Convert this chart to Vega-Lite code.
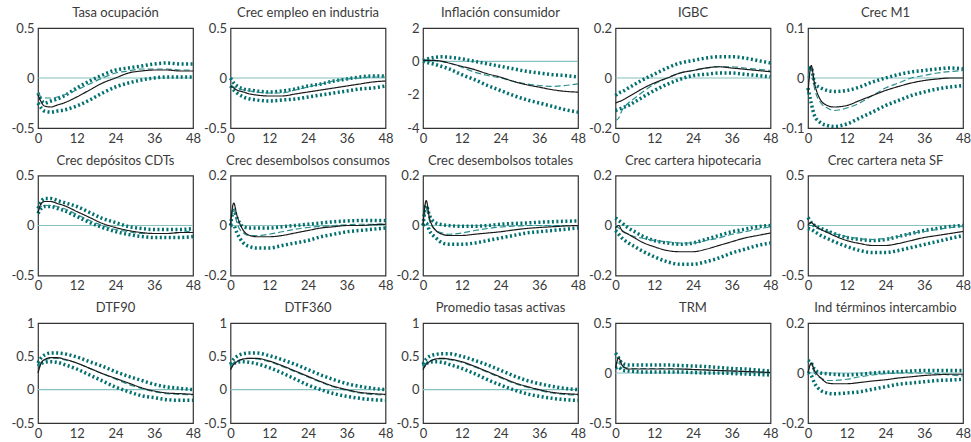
{
"$schema":"https://vega.github.io/schema/vega-lite/v6.json",
"padding":{"left":10,"top":6,"right":0,"bottom":0},
"background":"white",
"data":{"values":[
{"p":1,"h":0,"m":-0.17,"d":-0.15,"u":-0.15,"l":-0.25},
{"p":1,"h":1,"m":-0.24,"d":-0.19,"u":-0.22,"l":-0.3},
{"p":1,"h":2,"m":-0.28,"d":-0.2,"u":-0.25,"l":-0.33},
{"p":1,"h":4,"m":-0.29,"d":-0.2,"u":-0.23,"l":-0.34},
{"p":1,"h":6,"m":-0.27,"d":-0.19,"u":-0.21,"l":-0.33},
{"p":1,"h":8,"m":-0.25,"d":-0.17,"u":-0.18,"l":-0.32},
{"p":1,"h":12,"m":-0.19,"d":-0.12,"u":-0.1,"l":-0.28},
{"p":1,"h":16,"m":-0.12,"d":-0.06,"u":-0.03,"l":-0.22},
{"p":1,"h":20,"m":-0.05,"d":0.0,"u":0.03,"l":-0.15},
{"p":1,"h":24,"m":0.0,"d":0.05,"u":0.08,"l":-0.09},
{"p":1,"h":28,"m":0.05,"d":0.07,"u":0.1,"l":-0.05},
{"p":1,"h":32,"m":0.07,"d":0.09,"u":0.12,"l":-0.02},
{"p":1,"h":36,"m":0.08,"d":0.09,"u":0.14,"l":0.0},
{"p":1,"h":40,"m":0.08,"d":0.09,"u":0.15,"l":0.01},
{"p":1,"h":44,"m":0.07,"d":0.08,"u":0.14,"l":0.01},
{"p":1,"h":48,"m":0.07,"d":0.08,"u":0.14,"l":0.01},
{"p":2,"h":0,"m":-0.08,"d":-0.07,"u":0.0,"l":-0.08},
{"p":2,"h":1,"m":-0.1,"d":-0.09,"u":-0.05,"l":-0.12},
{"p":2,"h":2,"m":-0.12,"d":-0.1,"u":-0.08,"l":-0.15},
{"p":2,"h":4,"m":-0.14,"d":-0.12,"u":-0.11,"l":-0.19},
{"p":2,"h":6,"m":-0.16,"d":-0.13,"u":-0.12,"l":-0.21},
{"p":2,"h":8,"m":-0.17,"d":-0.14,"u":-0.13,"l":-0.22},
{"p":2,"h":12,"m":-0.18,"d":-0.15,"u":-0.14,"l":-0.23},
{"p":2,"h":16,"m":-0.18,"d":-0.15,"u":-0.13,"l":-0.22},
{"p":2,"h":20,"m":-0.16,"d":-0.12,"u":-0.11,"l":-0.21},
{"p":2,"h":24,"m":-0.14,"d":-0.09,"u":-0.08,"l":-0.19},
{"p":2,"h":28,"m":-0.12,"d":-0.06,"u":-0.06,"l":-0.17},
{"p":2,"h":32,"m":-0.1,"d":-0.03,"u":-0.03,"l":-0.15},
{"p":2,"h":36,"m":-0.08,"d":-0.01,"u":-0.01,"l":-0.13},
{"p":2,"h":40,"m":-0.06,"d":0.0,"u":0.01,"l":-0.11},
{"p":2,"h":44,"m":-0.04,"d":0.01,"u":0.02,"l":-0.1},
{"p":2,"h":48,"m":-0.03,"d":0.01,"u":0.02,"l":-0.08},
{"p":3,"h":0,"m":0.05,"d":0.1,"u":0.05,"l":0.0},
{"p":3,"h":1,"m":0.06,"d":0.09,"u":0.12,"l":-0.05},
{"p":3,"h":2,"m":0.06,"d":0.08,"u":0.18,"l":-0.1},
{"p":3,"h":4,"m":0.05,"d":0.05,"u":0.25,"l":-0.2},
{"p":3,"h":6,"m":0.0,"d":-0.02,"u":0.27,"l":-0.32},
{"p":3,"h":8,"m":-0.1,"d":-0.1,"u":0.25,"l":-0.45},
{"p":3,"h":12,"m":-0.3,"d":-0.35,"u":0.15,"l":-0.8},
{"p":3,"h":16,"m":-0.5,"d":-0.65,"u":0.0,"l":-1.1},
{"p":3,"h":20,"m":-0.75,"d":-0.85,"u":-0.15,"l":-1.45},
{"p":3,"h":24,"m":-0.95,"d":-1.0,"u":-0.3,"l":-1.75},
{"p":3,"h":28,"m":-1.2,"d":-1.2,"u":-0.45,"l":-2.05},
{"p":3,"h":32,"m":-1.4,"d":-1.35,"u":-0.6,"l":-2.3},
{"p":3,"h":36,"m":-1.55,"d":-1.45,"u":-0.7,"l":-2.5},
{"p":3,"h":40,"m":-1.7,"d":-1.5,"u":-0.8,"l":-2.7},
{"p":3,"h":44,"m":-1.8,"d":-1.45,"u":-0.85,"l":-2.9},
{"p":3,"h":48,"m":-1.85,"d":-1.35,"u":-0.95,"l":-3.05},
{"p":4,"h":0,"m":-0.1,"d":-0.17,"u":-0.07,"l":-0.13},
{"p":4,"h":1,"m":-0.095,"d":-0.16,"u":-0.06,"l":-0.125},
{"p":4,"h":2,"m":-0.09,"d":-0.13,"u":-0.055,"l":-0.12},
{"p":4,"h":4,"m":-0.075,"d":-0.1,"u":-0.04,"l":-0.11},
{"p":4,"h":6,"m":-0.06,"d":-0.08,"u":-0.025,"l":-0.095},
{"p":4,"h":8,"m":-0.045,"d":-0.06,"u":-0.01,"l":-0.08},
{"p":4,"h":12,"m":-0.02,"d":-0.025,"u":0.015,"l":-0.05},
{"p":4,"h":16,"m":0.0,"d":0.0,"u":0.04,"l":-0.025},
{"p":4,"h":20,"m":0.02,"d":0.02,"u":0.06,"l":-0.005},
{"p":4,"h":24,"m":0.03,"d":0.03,"u":0.07,"l":0.01},
{"p":4,"h":28,"m":0.04,"d":0.04,"u":0.08,"l":0.015},
{"p":4,"h":32,"m":0.045,"d":0.045,"u":0.085,"l":0.02},
{"p":4,"h":36,"m":0.04,"d":0.045,"u":0.085,"l":0.02},
{"p":4,"h":40,"m":0.035,"d":0.04,"u":0.08,"l":0.015},
{"p":4,"h":44,"m":0.03,"d":0.035,"u":0.07,"l":0.01},
{"p":4,"h":48,"m":0.025,"d":0.03,"u":0.06,"l":0.005},
{"p":5,"h":0,"m":-0.03,"d":0.0,"u":0.02,"l":-0.02},
{"p":5,"h":1,"m":0.025,"d":0.02,"u":0.02,"l":-0.05},
{"p":5,"h":2,"m":-0.01,"d":-0.02,"u":-0.01,"l":-0.075},
{"p":5,"h":4,"m":-0.045,"d":-0.05,"u":-0.02,"l":-0.09},
{"p":5,"h":6,"m":-0.055,"d":-0.06,"u":-0.025,"l":-0.095},
{"p":5,"h":8,"m":-0.058,"d":-0.065,"u":-0.027,"l":-0.097},
{"p":5,"h":12,"m":-0.055,"d":-0.06,"u":-0.025,"l":-0.092},
{"p":5,"h":16,"m":-0.045,"d":-0.05,"u":-0.018,"l":-0.08},
{"p":5,"h":20,"m":-0.035,"d":-0.035,"u":-0.008,"l":-0.068},
{"p":5,"h":24,"m":-0.025,"d":-0.02,"u":0.0,"l":-0.055},
{"p":5,"h":28,"m":-0.017,"d":-0.01,"u":0.007,"l":-0.045},
{"p":5,"h":32,"m":-0.01,"d":0.0,"u":0.012,"l":-0.035},
{"p":5,"h":36,"m":-0.005,"d":0.005,"u":0.015,"l":-0.028},
{"p":5,"h":40,"m":-0.002,"d":0.01,"u":0.018,"l":-0.022},
{"p":5,"h":44,"m":0.0,"d":0.013,"u":0.02,"l":-0.018},
{"p":5,"h":48,"m":0.0,"d":0.015,"u":0.018,"l":-0.015},
{"p":6,"h":0,"m":0.13,"d":0.15,"u":0.17,"l":0.12},
{"p":6,"h":1,"m":0.22,"d":0.19,"u":0.24,"l":0.17},
{"p":6,"h":2,"m":0.24,"d":0.2,"u":0.27,"l":0.19},
{"p":6,"h":4,"m":0.24,"d":0.2,"u":0.27,"l":0.19},
{"p":6,"h":6,"m":0.22,"d":0.19,"u":0.25,"l":0.17},
{"p":6,"h":8,"m":0.2,"d":0.17,"u":0.23,"l":0.15},
{"p":6,"h":12,"m":0.14,"d":0.11,"u":0.19,"l":0.09},
{"p":6,"h":16,"m":0.08,"d":0.05,"u":0.13,"l":0.03},
{"p":6,"h":20,"m":0.02,"d":0.0,"u":0.07,"l":-0.02},
{"p":6,"h":24,"m":-0.02,"d":-0.04,"u":0.03,"l":-0.06},
{"p":6,"h":28,"m":-0.05,"d":-0.06,"u":-0.01,"l":-0.09},
{"p":6,"h":32,"m":-0.07,"d":-0.08,"u":-0.03,"l":-0.11},
{"p":6,"h":36,"m":-0.08,"d":-0.08,"u":-0.04,"l":-0.12},
{"p":6,"h":40,"m":-0.08,"d":-0.08,"u":-0.04,"l":-0.12},
{"p":6,"h":44,"m":-0.07,"d":-0.07,"u":-0.04,"l":-0.12},
{"p":6,"h":48,"m":-0.07,"d":-0.05,"u":-0.03,"l":-0.11},
{"p":7,"h":0,"m":0.0,"d":0.0,"u":0.0,"l":0.0},
{"p":7,"h":1,"m":0.09,"d":0.07,"u":0.06,"l":0.0},
{"p":7,"h":2,"m":0.04,"d":0.01,"u":0.03,"l":-0.03},
{"p":7,"h":4,"m":-0.02,"d":-0.03,"u":-0.005,"l":-0.07},
{"p":7,"h":6,"m":-0.04,"d":-0.04,"u":-0.01,"l":-0.085},
{"p":7,"h":8,"m":-0.045,"d":-0.04,"u":-0.01,"l":-0.09},
{"p":7,"h":12,"m":-0.045,"d":-0.035,"u":-0.01,"l":-0.09},
{"p":7,"h":16,"m":-0.04,"d":-0.025,"u":-0.005,"l":-0.08},
{"p":7,"h":20,"m":-0.03,"d":-0.015,"u":0.0,"l":-0.07},
{"p":7,"h":24,"m":-0.02,"d":-0.008,"u":0.005,"l":-0.06},
{"p":7,"h":28,"m":-0.01,"d":-0.003,"u":0.01,"l":-0.045},
{"p":7,"h":32,"m":-0.005,"d":0.0,"u":0.015,"l":-0.035},
{"p":7,"h":36,"m":0.0,"d":0.003,"u":0.018,"l":-0.025},
{"p":7,"h":40,"m":0.0,"d":0.005,"u":0.02,"l":-0.02},
{"p":7,"h":44,"m":0.003,"d":0.005,"u":0.02,"l":-0.015},
{"p":7,"h":48,"m":0.005,"d":0.006,"u":0.02,"l":-0.01},
{"p":8,"h":0,"m":0.0,"d":0.0,"u":0.0,"l":0.0},
{"p":8,"h":1,"m":0.1,"d":0.07,"u":0.08,"l":0.01},
{"p":8,"h":2,"m":0.03,"d":0.02,"u":0.04,"l":-0.02},
{"p":8,"h":4,"m":-0.02,"d":-0.02,"u":0.01,"l":-0.05},
{"p":8,"h":6,"m":-0.035,"d":-0.03,"u":0.003,"l":-0.07},
{"p":8,"h":8,"m":-0.04,"d":-0.035,"u":0.0,"l":-0.075},
{"p":8,"h":12,"m":-0.04,"d":-0.03,"u":-0.003,"l":-0.075},
{"p":8,"h":16,"m":-0.035,"d":-0.02,"u":-0.003,"l":-0.07},
{"p":8,"h":20,"m":-0.03,"d":-0.012,"u":0.0,"l":-0.06},
{"p":8,"h":24,"m":-0.025,"d":-0.006,"u":0.005,"l":-0.05},
{"p":8,"h":28,"m":-0.018,"d":-0.003,"u":0.008,"l":-0.04},
{"p":8,"h":32,"m":-0.012,"d":0.0,"u":0.01,"l":-0.03},
{"p":8,"h":36,"m":-0.008,"d":0.0,"u":0.013,"l":-0.025},
{"p":8,"h":40,"m":-0.005,"d":0.0,"u":0.015,"l":-0.02},
{"p":8,"h":44,"m":-0.002,"d":0.0,"u":0.017,"l":-0.015},
{"p":8,"h":48,"m":0.0,"d":0.0,"u":0.018,"l":-0.01},
{"p":9,"h":0,"m":-0.01,"d":0.0,"u":0.03,"l":-0.02},
{"p":9,"h":1,"m":0.0,"d":-0.01,"u":0.02,"l":-0.035},
{"p":9,"h":2,"m":-0.02,"d":-0.02,"u":0.01,"l":-0.05},
{"p":9,"h":4,"m":-0.035,"d":-0.035,"u":-0.01,"l":-0.07},
{"p":9,"h":6,"m":-0.05,"d":-0.045,"u":-0.025,"l":-0.085},
{"p":9,"h":8,"m":-0.065,"d":-0.05,"u":-0.04,"l":-0.1},
{"p":9,"h":12,"m":-0.085,"d":-0.06,"u":-0.06,"l":-0.125},
{"p":9,"h":16,"m":-0.1,"d":-0.065,"u":-0.07,"l":-0.145},
{"p":9,"h":20,"m":-0.105,"d":-0.07,"u":-0.075,"l":-0.155},
{"p":9,"h":24,"m":-0.105,"d":-0.07,"u":-0.07,"l":-0.155},
{"p":9,"h":28,"m":-0.095,"d":-0.06,"u":-0.055,"l":-0.145},
{"p":9,"h":32,"m":-0.08,"d":-0.05,"u":-0.04,"l":-0.13},
{"p":9,"h":36,"m":-0.065,"d":-0.035,"u":-0.025,"l":-0.11},
{"p":9,"h":40,"m":-0.05,"d":-0.025,"u":-0.015,"l":-0.095},
{"p":9,"h":44,"m":-0.04,"d":-0.015,"u":-0.005,"l":-0.08},
{"p":9,"h":48,"m":-0.03,"d":-0.005,"u":0.0,"l":-0.07},
{"p":10,"h":0,"m":0.0,"d":0.0,"u":0.08,"l":-0.03},
{"p":10,"h":1,"m":0.03,"d":0.0,"u":0.03,"l":-0.04},
{"p":10,"h":2,"m":0.0,"d":-0.02,"u":0.0,"l":-0.06},
{"p":10,"h":4,"m":-0.04,"d":-0.04,"u":-0.03,"l":-0.1},
{"p":10,"h":6,"m":-0.07,"d":-0.06,"u":-0.055,"l":-0.13},
{"p":10,"h":8,"m":-0.1,"d":-0.08,"u":-0.08,"l":-0.16},
{"p":10,"h":12,"m":-0.15,"d":-0.11,"u":-0.12,"l":-0.21},
{"p":10,"h":16,"m":-0.18,"d":-0.13,"u":-0.14,"l":-0.25},
{"p":10,"h":20,"m":-0.2,"d":-0.14,"u":-0.15,"l":-0.27},
{"p":10,"h":24,"m":-0.2,"d":-0.13,"u":-0.14,"l":-0.27},
{"p":10,"h":28,"m":-0.18,"d":-0.11,"u":-0.11,"l":-0.25},
{"p":10,"h":32,"m":-0.15,"d":-0.08,"u":-0.08,"l":-0.22},
{"p":10,"h":36,"m":-0.12,"d":-0.06,"u":-0.05,"l":-0.19},
{"p":10,"h":40,"m":-0.1,"d":-0.04,"u":-0.03,"l":-0.16},
{"p":10,"h":44,"m":-0.08,"d":-0.02,"u":-0.01,"l":-0.13},
{"p":10,"h":48,"m":-0.06,"d":-0.01,"u":0.0,"l":-0.1},
{"p":11,"h":0,"m":0.25,"d":0.35,"u":0.4,"l":0.35},
{"p":11,"h":1,"m":0.4,"d":0.41,"u":0.48,"l":0.39},
{"p":11,"h":2,"m":0.45,"d":0.44,"u":0.52,"l":0.41},
{"p":11,"h":4,"m":0.48,"d":0.47,"u":0.55,"l":0.42},
{"p":11,"h":6,"m":0.48,"d":0.47,"u":0.55,"l":0.41},
{"p":11,"h":8,"m":0.46,"d":0.45,"u":0.54,"l":0.38},
{"p":11,"h":12,"m":0.4,"d":0.4,"u":0.49,"l":0.31},
{"p":11,"h":16,"m":0.32,"d":0.32,"u":0.42,"l":0.22},
{"p":11,"h":20,"m":0.24,"d":0.24,"u":0.35,"l":0.13},
{"p":11,"h":24,"m":0.17,"d":0.16,"u":0.27,"l":0.04},
{"p":11,"h":28,"m":0.1,"d":0.08,"u":0.2,"l":-0.03},
{"p":11,"h":32,"m":0.03,"d":0.02,"u":0.14,"l":-0.09},
{"p":11,"h":36,"m":-0.02,"d":-0.03,"u":0.08,"l":-0.12},
{"p":11,"h":40,"m":-0.05,"d":-0.06,"u":0.04,"l":-0.15},
{"p":11,"h":44,"m":-0.06,"d":-0.07,"u":0.02,"l":-0.16},
{"p":11,"h":48,"m":-0.07,"d":-0.08,"u":0.0,"l":-0.16},
{"p":12,"h":0,"m":0.3,"d":0.35,"u":0.38,"l":0.35},
{"p":12,"h":1,"m":0.38,"d":0.4,"u":0.46,"l":0.39},
{"p":12,"h":2,"m":0.42,"d":0.43,"u":0.5,"l":0.41},
{"p":12,"h":4,"m":0.46,"d":0.46,"u":0.54,"l":0.42},
{"p":12,"h":6,"m":0.47,"d":0.47,"u":0.55,"l":0.41},
{"p":12,"h":8,"m":0.47,"d":0.46,"u":0.55,"l":0.39},
{"p":12,"h":12,"m":0.43,"d":0.42,"u":0.51,"l":0.33},
{"p":12,"h":16,"m":0.36,"d":0.35,"u":0.45,"l":0.25},
{"p":12,"h":20,"m":0.28,"d":0.27,"u":0.38,"l":0.16},
{"p":12,"h":24,"m":0.2,"d":0.19,"u":0.3,"l":0.07},
{"p":12,"h":28,"m":0.12,"d":0.11,"u":0.22,"l":0.0},
{"p":12,"h":32,"m":0.05,"d":0.04,"u":0.15,"l":-0.06},
{"p":12,"h":36,"m":0.0,"d":-0.01,"u":0.09,"l":-0.1},
{"p":12,"h":40,"m":-0.04,"d":-0.05,"u":0.05,"l":-0.13},
{"p":12,"h":44,"m":-0.06,"d":-0.07,"u":0.02,"l":-0.15},
{"p":12,"h":48,"m":-0.07,"d":-0.08,"u":0.0,"l":-0.16},
{"p":13,"h":0,"m":0.3,"d":0.35,"u":0.38,"l":0.35},
{"p":13,"h":1,"m":0.38,"d":0.4,"u":0.46,"l":0.39},
{"p":13,"h":2,"m":0.42,"d":0.43,"u":0.5,"l":0.41},
{"p":13,"h":4,"m":0.46,"d":0.46,"u":0.53,"l":0.42},
{"p":13,"h":6,"m":0.47,"d":0.46,"u":0.54,"l":0.41},
{"p":13,"h":8,"m":0.46,"d":0.45,"u":0.54,"l":0.38},
{"p":13,"h":12,"m":0.42,"d":0.41,"u":0.5,"l":0.32},
{"p":13,"h":16,"m":0.35,"d":0.34,"u":0.44,"l":0.24},
{"p":13,"h":20,"m":0.27,"d":0.26,"u":0.37,"l":0.15},
{"p":13,"h":24,"m":0.19,"d":0.18,"u":0.29,"l":0.07},
{"p":13,"h":28,"m":0.11,"d":0.1,"u":0.21,"l":0.0},
{"p":13,"h":32,"m":0.05,"d":0.04,"u":0.14,"l":-0.06},
{"p":13,"h":36,"m":0.0,"d":-0.01,"u":0.09,"l":-0.1},
{"p":13,"h":40,"m":-0.04,"d":-0.05,"u":0.05,"l":-0.13},
{"p":13,"h":44,"m":-0.06,"d":-0.07,"u":0.02,"l":-0.15},
{"p":13,"h":48,"m":-0.07,"d":-0.08,"u":0.0,"l":-0.16},
{"p":14,"h":0,"m":0.05,"d":0.1,"u":0.2,"l":0.05},
{"p":14,"h":1,"m":0.15,"d":0.1,"u":0.15,"l":0.06},
{"p":14,"h":2,"m":0.08,"d":0.06,"u":0.1,"l":0.03},
{"p":14,"h":4,"m":0.04,"d":0.05,"u":0.08,"l":0.02},
{"p":14,"h":6,"m":0.04,"d":0.045,"u":0.08,"l":0.015},
{"p":14,"h":8,"m":0.04,"d":0.045,"u":0.08,"l":0.01},
{"p":14,"h":12,"m":0.04,"d":0.045,"u":0.08,"l":0.01},
{"p":14,"h":16,"m":0.04,"d":0.045,"u":0.08,"l":0.01},
{"p":14,"h":20,"m":0.04,"d":0.04,"u":0.075,"l":0.01},
{"p":14,"h":24,"m":0.035,"d":0.035,"u":0.07,"l":0.005},
{"p":14,"h":28,"m":0.03,"d":0.03,"u":0.065,"l":0.0},
{"p":14,"h":32,"m":0.025,"d":0.025,"u":0.055,"l":0.0},
{"p":14,"h":36,"m":0.02,"d":0.02,"u":0.045,"l":-0.005},
{"p":14,"h":40,"m":0.015,"d":0.015,"u":0.04,"l":-0.01},
{"p":14,"h":44,"m":0.01,"d":0.01,"u":0.03,"l":-0.015},
{"p":14,"h":48,"m":0.005,"d":0.0,"u":0.02,"l":-0.02},
{"p":15,"h":0,"m":0.0,"d":0.0,"u":0.05,"l":0.0},
{"p":15,"h":1,"m":0.04,"d":0.04,"u":0.04,"l":-0.01},
{"p":15,"h":2,"m":0.01,"d":0.0,"u":0.015,"l":-0.04},
{"p":15,"h":4,"m":-0.02,"d":-0.02,"u":0.0,"l":-0.07},
{"p":15,"h":6,"m":-0.04,"d":-0.03,"u":-0.003,"l":-0.08},
{"p":15,"h":8,"m":-0.043,"d":-0.03,"u":-0.005,"l":-0.083},
{"p":15,"h":12,"m":-0.043,"d":-0.025,"u":-0.008,"l":-0.08},
{"p":15,"h":16,"m":-0.038,"d":-0.015,"u":-0.005,"l":-0.075},
{"p":15,"h":20,"m":-0.032,"d":-0.008,"u":0.0,"l":-0.065},
{"p":15,"h":24,"m":-0.027,"d":-0.003,"u":0.003,"l":-0.055},
{"p":15,"h":28,"m":-0.02,"d":0.0,"u":0.005,"l":-0.045},
{"p":15,"h":32,"m":-0.015,"d":0.0,"u":0.008,"l":-0.04},
{"p":15,"h":36,"m":-0.01,"d":0.0,"u":0.01,"l":-0.035},
{"p":15,"h":40,"m":-0.007,"d":-0.003,"u":0.01,"l":-0.03},
{"p":15,"h":44,"m":-0.005,"d":-0.008,"u":0.01,"l":-0.028},
{"p":15,"h":48,"m":-0.005,"d":-0.012,"u":0.01,"l":-0.025}
]},
"columns":5,
"bounds":"flush",
"spacing":{"column":37.5,"row":47.5},
"concat":[
{"title":"Tasa ocupación","layer":[
{"data":{"values":[{}]},"mark":{"type":"rule","color":"#86c0c0","strokeWidth":1.2},"encoding":{"y":{"datum":0,"type":"quantitative","scale":{"domain":[-0.5,0.5]},"axis":{"values":[-0.5,0,0.5]},"title":null}}},
{"transform":[{"filter":"datum.p==1"},{"fold":["u","l","d","m"],"as":["k","v"]}],"mark":{"type":"line","interpolate":"monotone"},
"encoding":{"x":{"field":"h","type":"quantitative","scale":{"domain":[0,48]},"axis":{"values":[0,12,24,36,48]},"title":null},
"y":{"field":"v","type":"quantitative","scale":{"domain":[-0.5,0.5]},"axis":{"values":[-0.5,0,0.5]},"title":null},
"color":{"field":"k","type":"nominal","scale":{"domain":["u","l","d","m"],"range":["#006f6e","#006f6e","#2a8e8e","#1a1a1a"]}},
"strokeDash":{"field":"k","type":"nominal","scale":{"domain":["u","l","d","m"],"range":[[2,2.5],[2,2.5],[6,3],[1,0]]}},
"strokeWidth":{"condition":[{"test":"datum.k=='m'","value":1.2},{"test":"datum.k=='d'","value":1.2}],"value":3.5}}}]},
{"title":"Crec empleo en industria","layer":[
{"data":{"values":[{}]},"mark":{"type":"rule","color":"#86c0c0","strokeWidth":1.2},"encoding":{"y":{"datum":0,"type":"quantitative","scale":{"domain":[-0.5,0.5]},"axis":{"values":[-0.5,0,0.5]},"title":null}}},
{"transform":[{"filter":"datum.p==2"},{"fold":["u","l","d","m"],"as":["k","v"]}],"mark":{"type":"line","interpolate":"monotone"},
"encoding":{"x":{"field":"h","type":"quantitative","scale":{"domain":[0,48]},"axis":{"values":[0,12,24,36,48]},"title":null},
"y":{"field":"v","type":"quantitative","scale":{"domain":[-0.5,0.5]},"axis":{"values":[-0.5,0,0.5]},"title":null},
"color":{"field":"k","type":"nominal","scale":{"domain":["u","l","d","m"],"range":["#006f6e","#006f6e","#2a8e8e","#1a1a1a"]}},
"strokeDash":{"field":"k","type":"nominal","scale":{"domain":["u","l","d","m"],"range":[[2,2.5],[2,2.5],[6,3],[1,0]]}},
"strokeWidth":{"condition":[{"test":"datum.k=='m'","value":1.2},{"test":"datum.k=='d'","value":1.2}],"value":3.5}}}]},
{"title":"Inflación consumidor","layer":[
{"data":{"values":[{}]},"mark":{"type":"rule","color":"#86c0c0","strokeWidth":1.2},"encoding":{"y":{"datum":0,"type":"quantitative","scale":{"domain":[-4,2]},"axis":{"values":[-4,-2,0,2]},"title":null}}},
{"transform":[{"filter":"datum.p==3"},{"fold":["u","l","d","m"],"as":["k","v"]}],"mark":{"type":"line","interpolate":"monotone"},
"encoding":{"x":{"field":"h","type":"quantitative","scale":{"domain":[0,48]},"axis":{"values":[0,12,24,36,48]},"title":null},
"y":{"field":"v","type":"quantitative","scale":{"domain":[-4,2]},"axis":{"values":[-4,-2,0,2]},"title":null},
"color":{"field":"k","type":"nominal","scale":{"domain":["u","l","d","m"],"range":["#006f6e","#006f6e","#2a8e8e","#1a1a1a"]}},
"strokeDash":{"field":"k","type":"nominal","scale":{"domain":["u","l","d","m"],"range":[[2,2.5],[2,2.5],[6,3],[1,0]]}},
"strokeWidth":{"condition":[{"test":"datum.k=='m'","value":1.2},{"test":"datum.k=='d'","value":1.2}],"value":3.5}}}]},
{"title":"IGBC","layer":[
{"data":{"values":[{}]},"mark":{"type":"rule","color":"#86c0c0","strokeWidth":1.2},"encoding":{"y":{"datum":0,"type":"quantitative","scale":{"domain":[-0.2,0.2]},"axis":{"values":[-0.2,0,0.2]},"title":null}}},
{"transform":[{"filter":"datum.p==4"},{"fold":["u","l","d","m"],"as":["k","v"]}],"mark":{"type":"line","interpolate":"monotone"},
"encoding":{"x":{"field":"h","type":"quantitative","scale":{"domain":[0,48]},"axis":{"values":[0,12,24,36,48]},"title":null},
"y":{"field":"v","type":"quantitative","scale":{"domain":[-0.2,0.2]},"axis":{"values":[-0.2,0,0.2]},"title":null},
"color":{"field":"k","type":"nominal","scale":{"domain":["u","l","d","m"],"range":["#006f6e","#006f6e","#2a8e8e","#1a1a1a"]}},
"strokeDash":{"field":"k","type":"nominal","scale":{"domain":["u","l","d","m"],"range":[[2,2.5],[2,2.5],[6,3],[1,0]]}},
"strokeWidth":{"condition":[{"test":"datum.k=='m'","value":1.2},{"test":"datum.k=='d'","value":1.2}],"value":3.5}}}]},
{"title":"Crec M1","layer":[
{"data":{"values":[{}]},"mark":{"type":"rule","color":"#86c0c0","strokeWidth":1.2},"encoding":{"y":{"datum":0,"type":"quantitative","scale":{"domain":[-0.1,0.1]},"axis":{"values":[-0.1,0,0.1]},"title":null}}},
{"transform":[{"filter":"datum.p==5"},{"fold":["u","l","d","m"],"as":["k","v"]}],"mark":{"type":"line","interpolate":"monotone"},
"encoding":{"x":{"field":"h","type":"quantitative","scale":{"domain":[0,48]},"axis":{"values":[0,12,24,36,48]},"title":null},
"y":{"field":"v","type":"quantitative","scale":{"domain":[-0.1,0.1]},"axis":{"values":[-0.1,0,0.1]},"title":null},
"color":{"field":"k","type":"nominal","scale":{"domain":["u","l","d","m"],"range":["#006f6e","#006f6e","#2a8e8e","#1a1a1a"]}},
"strokeDash":{"field":"k","type":"nominal","scale":{"domain":["u","l","d","m"],"range":[[2,2.5],[2,2.5],[6,3],[1,0]]}},
"strokeWidth":{"condition":[{"test":"datum.k=='m'","value":1.2},{"test":"datum.k=='d'","value":1.2}],"value":3.5}}}]},
{"title":"Crec depósitos CDTs","layer":[
{"data":{"values":[{}]},"mark":{"type":"rule","color":"#86c0c0","strokeWidth":1.2},"encoding":{"y":{"datum":0,"type":"quantitative","scale":{"domain":[-0.5,0.5]},"axis":{"values":[-0.5,0,0.5]},"title":null}}},
{"transform":[{"filter":"datum.p==6"},{"fold":["u","l","d","m"],"as":["k","v"]}],"mark":{"type":"line","interpolate":"monotone"},
"encoding":{"x":{"field":"h","type":"quantitative","scale":{"domain":[0,48]},"axis":{"values":[0,12,24,36,48]},"title":null},
"y":{"field":"v","type":"quantitative","scale":{"domain":[-0.5,0.5]},"axis":{"values":[-0.5,0,0.5]},"title":null},
"color":{"field":"k","type":"nominal","scale":{"domain":["u","l","d","m"],"range":["#006f6e","#006f6e","#2a8e8e","#1a1a1a"]}},
"strokeDash":{"field":"k","type":"nominal","scale":{"domain":["u","l","d","m"],"range":[[2,2.5],[2,2.5],[6,3],[1,0]]}},
"strokeWidth":{"condition":[{"test":"datum.k=='m'","value":1.2},{"test":"datum.k=='d'","value":1.2}],"value":3.5}}}]},
{"title":"Crec desembolsos consumos","layer":[
{"data":{"values":[{}]},"mark":{"type":"rule","color":"#86c0c0","strokeWidth":1.2},"encoding":{"y":{"datum":0,"type":"quantitative","scale":{"domain":[-0.2,0.2]},"axis":{"values":[-0.2,0,0.2]},"title":null}}},
{"transform":[{"filter":"datum.p==7"},{"fold":["u","l","d","m"],"as":["k","v"]}],"mark":{"type":"line","interpolate":"monotone"},
"encoding":{"x":{"field":"h","type":"quantitative","scale":{"domain":[0,48]},"axis":{"values":[0,12,24,36,48]},"title":null},
"y":{"field":"v","type":"quantitative","scale":{"domain":[-0.2,0.2]},"axis":{"values":[-0.2,0,0.2]},"title":null},
"color":{"field":"k","type":"nominal","scale":{"domain":["u","l","d","m"],"range":["#006f6e","#006f6e","#2a8e8e","#1a1a1a"]}},
"strokeDash":{"field":"k","type":"nominal","scale":{"domain":["u","l","d","m"],"range":[[2,2.5],[2,2.5],[6,3],[1,0]]}},
"strokeWidth":{"condition":[{"test":"datum.k=='m'","value":1.2},{"test":"datum.k=='d'","value":1.2}],"value":3.5}}}]},
{"title":"Crec desembolsos totales","layer":[
{"data":{"values":[{}]},"mark":{"type":"rule","color":"#86c0c0","strokeWidth":1.2},"encoding":{"y":{"datum":0,"type":"quantitative","scale":{"domain":[-0.2,0.2]},"axis":{"values":[-0.2,0,0.2]},"title":null}}},
{"transform":[{"filter":"datum.p==8"},{"fold":["u","l","d","m"],"as":["k","v"]}],"mark":{"type":"line","interpolate":"monotone"},
"encoding":{"x":{"field":"h","type":"quantitative","scale":{"domain":[0,48]},"axis":{"values":[0,12,24,36,48]},"title":null},
"y":{"field":"v","type":"quantitative","scale":{"domain":[-0.2,0.2]},"axis":{"values":[-0.2,0,0.2]},"title":null},
"color":{"field":"k","type":"nominal","scale":{"domain":["u","l","d","m"],"range":["#006f6e","#006f6e","#2a8e8e","#1a1a1a"]}},
"strokeDash":{"field":"k","type":"nominal","scale":{"domain":["u","l","d","m"],"range":[[2,2.5],[2,2.5],[6,3],[1,0]]}},
"strokeWidth":{"condition":[{"test":"datum.k=='m'","value":1.2},{"test":"datum.k=='d'","value":1.2}],"value":3.5}}}]},
{"title":"Crec cartera hipotecaria","layer":[
{"data":{"values":[{}]},"mark":{"type":"rule","color":"#86c0c0","strokeWidth":1.2},"encoding":{"y":{"datum":0,"type":"quantitative","scale":{"domain":[-0.2,0.2]},"axis":{"values":[-0.2,0,0.2]},"title":null}}},
{"transform":[{"filter":"datum.p==9"},{"fold":["u","l","d","m"],"as":["k","v"]}],"mark":{"type":"line","interpolate":"monotone"},
"encoding":{"x":{"field":"h","type":"quantitative","scale":{"domain":[0,48]},"axis":{"values":[0,12,24,36,48]},"title":null},
"y":{"field":"v","type":"quantitative","scale":{"domain":[-0.2,0.2]},"axis":{"values":[-0.2,0,0.2]},"title":null},
"color":{"field":"k","type":"nominal","scale":{"domain":["u","l","d","m"],"range":["#006f6e","#006f6e","#2a8e8e","#1a1a1a"]}},
"strokeDash":{"field":"k","type":"nominal","scale":{"domain":["u","l","d","m"],"range":[[2,2.5],[2,2.5],[6,3],[1,0]]}},
"strokeWidth":{"condition":[{"test":"datum.k=='m'","value":1.2},{"test":"datum.k=='d'","value":1.2}],"value":3.5}}}]},
{"title":"Crec cartera neta SF","layer":[
{"data":{"values":[{}]},"mark":{"type":"rule","color":"#86c0c0","strokeWidth":1.2},"encoding":{"y":{"datum":0,"type":"quantitative","scale":{"domain":[-0.5,0.5]},"axis":{"values":[-0.5,0,0.5]},"title":null}}},
{"transform":[{"filter":"datum.p==10"},{"fold":["u","l","d","m"],"as":["k","v"]}],"mark":{"type":"line","interpolate":"monotone"},
"encoding":{"x":{"field":"h","type":"quantitative","scale":{"domain":[0,48]},"axis":{"values":[0,12,24,36,48]},"title":null},
"y":{"field":"v","type":"quantitative","scale":{"domain":[-0.5,0.5]},"axis":{"values":[-0.5,0,0.5]},"title":null},
"color":{"field":"k","type":"nominal","scale":{"domain":["u","l","d","m"],"range":["#006f6e","#006f6e","#2a8e8e","#1a1a1a"]}},
"strokeDash":{"field":"k","type":"nominal","scale":{"domain":["u","l","d","m"],"range":[[2,2.5],[2,2.5],[6,3],[1,0]]}},
"strokeWidth":{"condition":[{"test":"datum.k=='m'","value":1.2},{"test":"datum.k=='d'","value":1.2}],"value":3.5}}}]},
{"title":"DTF90","layer":[
{"data":{"values":[{}]},"mark":{"type":"rule","color":"#86c0c0","strokeWidth":1.2},"encoding":{"y":{"datum":0,"type":"quantitative","scale":{"domain":[-0.5,1]},"axis":{"values":[-0.5,0,0.5,1]},"title":null}}},
{"transform":[{"filter":"datum.p==11"},{"fold":["u","l","d","m"],"as":["k","v"]}],"mark":{"type":"line","interpolate":"monotone"},
"encoding":{"x":{"field":"h","type":"quantitative","scale":{"domain":[0,48]},"axis":{"values":[0,12,24,36,48]},"title":null},
"y":{"field":"v","type":"quantitative","scale":{"domain":[-0.5,1]},"axis":{"values":[-0.5,0,0.5,1]},"title":null},
"color":{"field":"k","type":"nominal","scale":{"domain":["u","l","d","m"],"range":["#006f6e","#006f6e","#2a8e8e","#1a1a1a"]}},
"strokeDash":{"field":"k","type":"nominal","scale":{"domain":["u","l","d","m"],"range":[[2,2.5],[2,2.5],[6,3],[1,0]]}},
"strokeWidth":{"condition":[{"test":"datum.k=='m'","value":1.2},{"test":"datum.k=='d'","value":1.2}],"value":3.5}}}]},
{"title":"DTF360","layer":[
{"data":{"values":[{}]},"mark":{"type":"rule","color":"#86c0c0","strokeWidth":1.2},"encoding":{"y":{"datum":0,"type":"quantitative","scale":{"domain":[-0.5,1]},"axis":{"values":[-0.5,0,0.5,1]},"title":null}}},
{"transform":[{"filter":"datum.p==12"},{"fold":["u","l","d","m"],"as":["k","v"]}],"mark":{"type":"line","interpolate":"monotone"},
"encoding":{"x":{"field":"h","type":"quantitative","scale":{"domain":[0,48]},"axis":{"values":[0,12,24,36,48]},"title":null},
"y":{"field":"v","type":"quantitative","scale":{"domain":[-0.5,1]},"axis":{"values":[-0.5,0,0.5,1]},"title":null},
"color":{"field":"k","type":"nominal","scale":{"domain":["u","l","d","m"],"range":["#006f6e","#006f6e","#2a8e8e","#1a1a1a"]}},
"strokeDash":{"field":"k","type":"nominal","scale":{"domain":["u","l","d","m"],"range":[[2,2.5],[2,2.5],[6,3],[1,0]]}},
"strokeWidth":{"condition":[{"test":"datum.k=='m'","value":1.2},{"test":"datum.k=='d'","value":1.2}],"value":3.5}}}]},
{"title":"Promedio tasas activas","layer":[
{"data":{"values":[{}]},"mark":{"type":"rule","color":"#86c0c0","strokeWidth":1.2},"encoding":{"y":{"datum":0,"type":"quantitative","scale":{"domain":[-0.5,1]},"axis":{"values":[-0.5,0,0.5,1]},"title":null}}},
{"transform":[{"filter":"datum.p==13"},{"fold":["u","l","d","m"],"as":["k","v"]}],"mark":{"type":"line","interpolate":"monotone"},
"encoding":{"x":{"field":"h","type":"quantitative","scale":{"domain":[0,48]},"axis":{"values":[0,12,24,36,48]},"title":null},
"y":{"field":"v","type":"quantitative","scale":{"domain":[-0.5,1]},"axis":{"values":[-0.5,0,0.5,1]},"title":null},
"color":{"field":"k","type":"nominal","scale":{"domain":["u","l","d","m"],"range":["#006f6e","#006f6e","#2a8e8e","#1a1a1a"]}},
"strokeDash":{"field":"k","type":"nominal","scale":{"domain":["u","l","d","m"],"range":[[2,2.5],[2,2.5],[6,3],[1,0]]}},
"strokeWidth":{"condition":[{"test":"datum.k=='m'","value":1.2},{"test":"datum.k=='d'","value":1.2}],"value":3.5}}}]},
{"title":"TRM","layer":[
{"data":{"values":[{}]},"mark":{"type":"rule","color":"#86c0c0","strokeWidth":1.2},"encoding":{"y":{"datum":0,"type":"quantitative","scale":{"domain":[-0.5,0.5]},"axis":{"values":[-0.5,0,0.5]},"title":null}}},
{"transform":[{"filter":"datum.p==14"},{"fold":["u","l","d","m"],"as":["k","v"]}],"mark":{"type":"line","interpolate":"monotone"},
"encoding":{"x":{"field":"h","type":"quantitative","scale":{"domain":[0,48]},"axis":{"values":[0,12,24,36,48]},"title":null},
"y":{"field":"v","type":"quantitative","scale":{"domain":[-0.5,0.5]},"axis":{"values":[-0.5,0,0.5]},"title":null},
"color":{"field":"k","type":"nominal","scale":{"domain":["u","l","d","m"],"range":["#006f6e","#006f6e","#2a8e8e","#1a1a1a"]}},
"strokeDash":{"field":"k","type":"nominal","scale":{"domain":["u","l","d","m"],"range":[[2,2.5],[2,2.5],[6,3],[1,0]]}},
"strokeWidth":{"condition":[{"test":"datum.k=='m'","value":1.2},{"test":"datum.k=='d'","value":1.2}],"value":3.5}}}]},
{"title":"Ind términos intercambio","layer":[
{"data":{"values":[{}]},"mark":{"type":"rule","color":"#86c0c0","strokeWidth":1.2},"encoding":{"y":{"datum":0,"type":"quantitative","scale":{"domain":[-0.2,0.2]},"axis":{"values":[-0.2,0,0.2]},"title":null}}},
{"transform":[{"filter":"datum.p==15"},{"fold":["u","l","d","m"],"as":["k","v"]}],"mark":{"type":"line","interpolate":"monotone"},
"encoding":{"x":{"field":"h","type":"quantitative","scale":{"domain":[0,48]},"axis":{"values":[0,12,24,36,48]},"title":null},
"y":{"field":"v","type":"quantitative","scale":{"domain":[-0.2,0.2]},"axis":{"values":[-0.2,0,0.2]},"title":null},
"color":{"field":"k","type":"nominal","scale":{"domain":["u","l","d","m"],"range":["#006f6e","#006f6e","#2a8e8e","#1a1a1a"]}},
"strokeDash":{"field":"k","type":"nominal","scale":{"domain":["u","l","d","m"],"range":[[2,2.5],[2,2.5],[6,3],[1,0]]}},
"strokeWidth":{"condition":[{"test":"datum.k=='m'","value":1.2},{"test":"datum.k=='d'","value":1.2}],"value":3.5}}}]}
],
"config":{
"view":{"stroke":"#333333","strokeWidth":1.2,"continuousWidth":155,"continuousHeight":100},
"axis":{"domain":false,"ticks":false,"grid":false,"labelFont":"Lato","labelFontSize":13,"labelColor":"#3a3a3a","labelPadding":4,"labelFlush":false,"labelOverlap":false,"labelExpr":"datum.value + ''"},
"title":{"font":"Lato","fontSize":13,"fontWeight":"normal","color":"#3a3a3a","offset":2,"baseline":"alphabetic"},
"legend":{"disable":true}
}
}
